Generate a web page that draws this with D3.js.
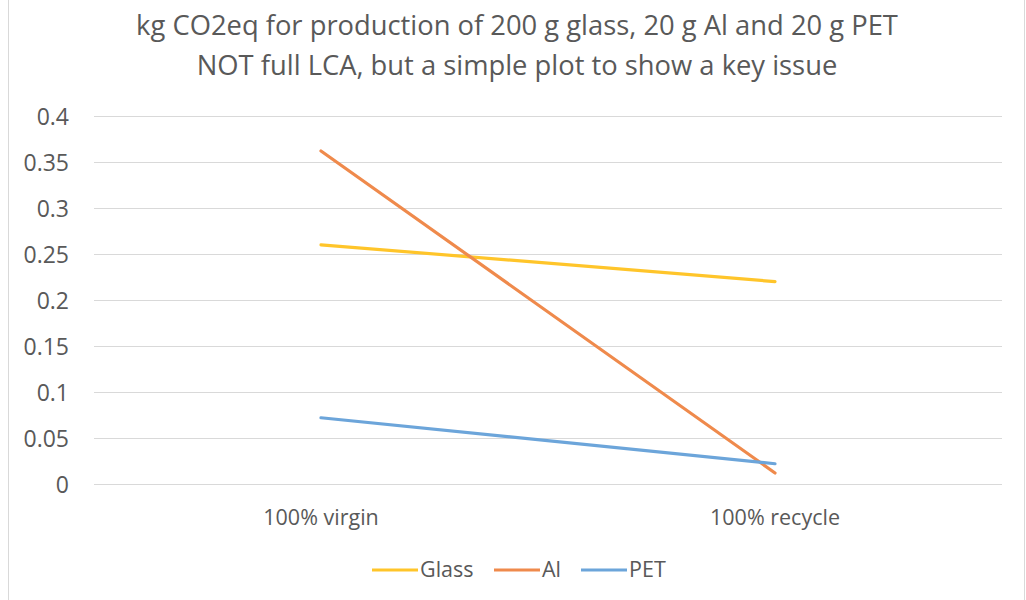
<!DOCTYPE html>
<html>
<head>
<meta charset="utf-8">
<script src="https://cdn.jsdelivr.net/npm/d3@7"></script>
<style>
  html, body { margin: 0; padding: 0; background: #fff; }
  svg { display: block; }
  text { font-family: "Open Sans", "Noto Sans", sans-serif; fill: #595959; }
</style>
</head>
<body>
<svg id="chart" width="1026" height="600"></svg>
<script>
// ---- data ----
const categories = ["100% virgin", "100% recycle"];
const seriesNames = ["Glass", "Al", "PET"];
const glassValues = [0.26, 0.22];
const alValues = [0.362, 0.012];
const petValues = [0.072, 0.022];
const yTicks = [0, 0.05, 0.1, 0.15, 0.2, 0.25, 0.3, 0.35, 0.4];
const yTickLabels = ["0", "0.05", "0.1", "0.15", "0.2", "0.25", "0.3", "0.35", "0.4"];
const titleLines = [
  "kg CO2eq for production of 200 g glass, 20 g Al and 20 g PET",
  "NOT full LCA, but a simple plot to show a key issue"
];
const colors = ["#FFC52A", "#EF8A4C", "#6CA5DA"];

const series = seriesNames.map((name, i) => ({
  name, color: colors[i], values: [glassValues, alValues, petValues][i]
}));

const svg = d3.select("#chart");

// outer frame (left/right edges visible)
svg.append("rect")
  .attr("x", 8.5).attr("y", -5).attr("width", 1016).attr("height", 615)
  .attr("fill", "none").attr("stroke", "#d9d9d9").attr("stroke-width", 1);

const margin = { left: 94, right: 1002, top: 116, bottom: 484 };

const x = d3.scaleBand().domain(categories).range([margin.left, margin.right]);
const y = d3.scaleLinear().domain([0, 0.4]).range([margin.bottom, margin.top]);

// gridlines
svg.append("g").selectAll("line").data(yTicks).join("line")
  .attr("x1", margin.left).attr("x2", margin.right)
  .attr("y1", d => Math.round(y(d)) + 0.5).attr("y2", d => Math.round(y(d)) + 0.5)
  .attr("stroke", "#d9d9d9").attr("stroke-width", 1);

// y axis labels
const yAxis = d3.axisLeft(y).tickValues(yTicks)
  .tickFormat((d, i) => yTickLabels[i]).tickSize(0).tickPadding(0);
const yG = svg.append("g").attr("transform", `translate(69,0)`).call(yAxis);
yG.select(".domain").remove();
yG.selectAll("text")
  .style("font-family", '"Open Sans", sans-serif')
  .style("font-size", "23px").attr("fill", "#595959").attr("dy", "0.36em");

// x axis labels
const xAxis = d3.axisBottom(x).tickSize(0).tickPadding(0);
const xG = svg.append("g").attr("transform", `translate(0,${margin.bottom})`).call(xAxis);
xG.select(".domain").remove();
xG.selectAll("text")
  .style("font-family", '"Open Sans", sans-serif')
  .style("font-size", "21.5px").attr("fill", "#595959").attr("dy", 0).attr("y", 41);

// lines
const line = d3.line()
  .x((d, i) => x(categories[i]) + x.bandwidth() / 2)
  .y(d => y(d));

svg.append("g").selectAll("path").data(series).join("path")
  .attr("d", d => line(d.values))
  .attr("fill", "none")
  .attr("stroke", d => d.color)
  .attr("stroke-width", 3.2)
  .attr("stroke-linecap", "round");

// title
const titleG = svg.append("g");
const titleY = [35, 75];
titleLines.forEach((t, i) => {
  titleG.append("text")
    .attr("x", 517).attr("y", titleY[i])
    .attr("text-anchor", "middle")
    .style("font-size", "25px")
    .attr("fill", "#595959")
    .text(t);
});
// fit title width to reference (~762px for first line)
const w0 = titleG.select("text").node().getComputedTextLength();
const fs = 25 * 762 / w0;
titleG.selectAll("text").style("font-size", fs.toFixed(2) + "px");

// legend
const legendItems = [
  { x1: 372, x2: 418, tx: 420 },
  { x1: 494, x2: 540, tx: 542 },
  { x1: 581, x2: 627, tx: 629 }
];
const lg = svg.append("g");
series.forEach((s, i) => {
  const it = legendItems[i];
  lg.append("line")
    .attr("x1", it.x1).attr("x2", it.x2)
    .attr("y1", 570).attr("y2", 570)
    .attr("stroke", s.color).attr("stroke-width", 3.2);
  lg.append("text")
    .attr("x", it.tx).attr("y", 577)
    .style("font-size", "21.5px")
    .attr("fill", "#595959")
    .text(s.name);
});
</script>
</body>
</html>
